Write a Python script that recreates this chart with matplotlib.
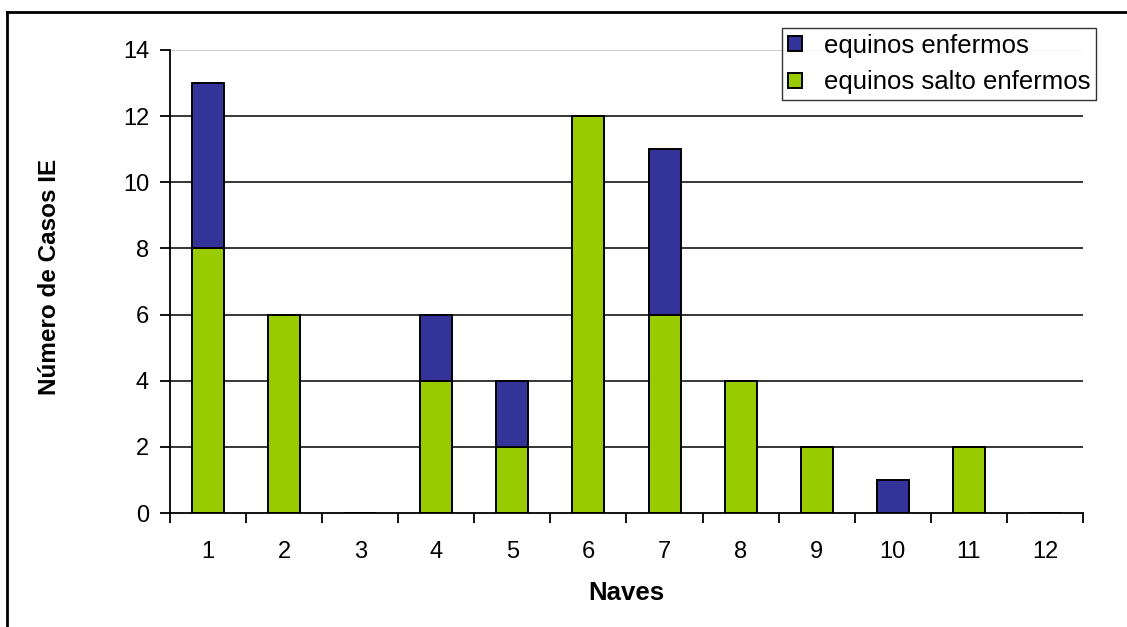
import matplotlib
matplotlib.use("Agg")
import matplotlib.pyplot as plt
import numpy as np
from matplotlib.lines import Line2D

naves = ['1', '2', '3', '4', '5', '6', '7', '8', '9', '10', '11', '12']
salto_enfermos = [8, 6, 0, 4, 2, 12, 6, 4, 2, 0, 2, 0]
enfermos = [5, 0, 0, 2, 2, 0, 5, 0, 0, 1, 0, 0]
y_ticks = [0, 2, 4, 6, 8, 10, 12, 14]

plt.rcParams['font.family'] = ['Liberation Sans', 'DejaVu Sans']

fig = plt.figure(figsize=(11.27, 6.27), dpi=100)
ax = fig.add_axes([0.1508, 0.1818, 0.8102, 0.7385])

x = np.arange(1, len(naves) + 1)
width = 0.42

ax.bar(x, salto_enfermos, width, color='#99CC00', edgecolor='black', linewidth=1.4,
       label='equinos salto enfermos', zorder=3)
ax.bar(x, enfermos, width, bottom=salto_enfermos, color='#333399', edgecolor='black',
       linewidth=1.4, label='equinos enfermos', zorder=3)

ax.set_xlim(0.5, len(naves) + 0.5)
ax.set_ylim(0, 14)

ax.set_yticks(y_ticks)
ax.set_yticklabels([str(t) for t in y_ticks], fontsize=17)
for t in y_ticks[1:-1]:
    ax.axhline(t, color='black', linewidth=1.1, zorder=1)
ax.axhline(14, color='#c0c0c0', linewidth=1.1, zorder=1)

# category ticks sit between the bars
ax.set_xticks(np.arange(0.5, len(naves) + 1, 1.0))
ax.set_xticklabels([])
ax.set_xticks(x, minor=True)
ax.set_xticklabels(naves, minor=True, fontsize=17)
ax.tick_params(axis='x', which='minor', length=0, pad=20)
ax.tick_params(axis='x', which='major', direction='out', length=7, width=1.3)
ax.tick_params(axis='y', direction='out', length=7, width=1.3, pad=8)

for s in ['top', 'right']:
    ax.spines[s].set_visible(False)
ax.spines['left'].set_linewidth(1.3)
ax.spines['bottom'].set_linewidth(1.3)

ax.set_xlabel('Naves', fontsize=18.5, fontweight='bold', va='center')
ax.xaxis.set_label_coords(0.4995, -0.1728)
ax.set_ylabel('Número de Casos IE', fontsize=17.5, fontweight='bold', va='center')
ax.yaxis.set_label_coords(-0.1314, 0.51)

handles, labels = ax.get_legend_handles_labels()
leg = ax.legend(handles[::-1], labels[::-1], loc='upper right', bbox_to_anchor=(1.014, 1.0475),
                fontsize=18.5, frameon=True, fancybox=False, edgecolor='black',
                handlelength=0.55, handleheight=0.55, handletextpad=0.85,
                borderpad=0.22, labelspacing=0.5, borderaxespad=0)
leg.get_frame().set_linewidth(1.0)

# outer chart frame (left and top edges only visible)
fig.add_artist(Line2D([7 / 1127, 7 / 1127], [0, 1 - 12 / 627], color='black', linewidth=2,
                      transform=fig.transFigure))
fig.add_artist(Line2D([7 / 1127, 1], [1 - 12 / 627, 1 - 12 / 627], color='black', linewidth=2,
                      transform=fig.transFigure))

fig.savefig('out.png', dpi=100)
